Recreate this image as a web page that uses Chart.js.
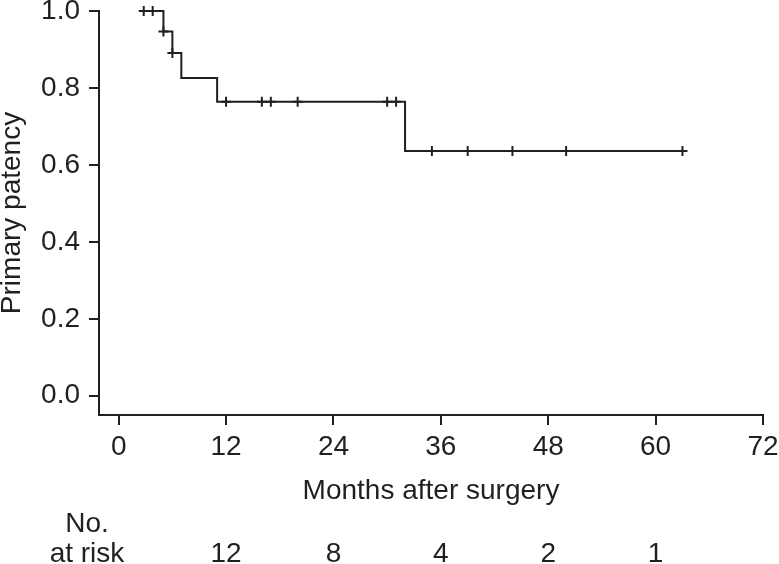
<!DOCTYPE html>
<html>
<head>
<meta charset="utf-8">
<script src="https://cdn.jsdelivr.net/npm/chart.js@4/dist/chart.umd.min.js"></script>
<style>
  html, body { margin: 0; padding: 0; background: #fff; }
</style>
</head>
<body>
<canvas id="kmChart" width="779" height="564"></canvas>
<script>
// Kaplan-Meier curve
var kmTimes    = [2.8, 5, 6, 7, 11, 32, 63];
var kmSurvival = [1.0, 0.947, 0.891, 0.826, 0.764, 0.636, 0.636];

// censored observations (+ marks)
var censorTimes = [2.8, 3.8, 5, 6, 12, 16, 17, 20, 30, 31, 35, 39, 44, 50, 63];
var censorSurv  = [1.0, 1.0, 0.947, 0.891, 0.764, 0.764, 0.764, 0.764, 0.764, 0.764, 0.636, 0.636, 0.636, 0.636, 0.636];

var xTicks = [0, 12, 24, 36, 48, 60, 72];
var yTicks = [0, 0.2, 0.4, 0.6, 0.8, 1.0];

// number at risk table
var riskTimes  = [12, 24, 36, 48, 60];
var riskCounts = [12, 8, 4, 2, 1];

var ink = '#231f20';
var fontFam = '"Liberation Sans", Arial, Helvetica, sans-serif';
var fontSize = 28;

var kmPoints = kmTimes.map(function(t, i) { return {x: t, y: kmSurvival[i]}; });
var censorPoints = censorTimes.map(function(t, i) { return {x: t, y: censorSurv[i]}; });

var atRiskTable = {
  id: 'atRiskTable',
  afterDraw: function(chart) {
    var ctx = chart.ctx;
    var xs = chart.scales.x;
    ctx.save();
    ctx.fillStyle = ink;
    ctx.font = fontSize + 'px ' + fontFam;
    ctx.textAlign = 'center';
    ctx.textBaseline = 'alphabetic';
    ctx.fillText('No.', 87, 532);
    ctx.fillText('at risk', 87, 562);
    for (var i = 0; i < riskTimes.length; i++) {
      ctx.fillText(String(riskCounts[i]), xs.getPixelForValue(riskTimes[i]), 562);
    }
    ctx.restore();
  }
};

var ctx = document.getElementById('kmChart');
var myChart = new Chart(ctx, {
  type: 'scatter',
  data: {
    datasets: [
      {
        label: 'Primary patency',
        data: kmPoints,
        showLine: true,
        stepped: true,
        borderColor: ink,
        borderWidth: 2,
        pointRadius: 0,
        fill: false,
        clip: false
      },
      {
        label: 'Censored',
        data: censorPoints,
        showLine: false,
        pointStyle: 'cross',
        pointRadius: 5,
        pointBorderWidth: 2,
        borderColor: ink,
        backgroundColor: ink,
        clip: false
      }
    ]
  },
  options: {
    responsive: false,
    animation: false,
    layout: { padding: { top: 11, right: 16, bottom: 56, left: 0 } },
    plugins: {
      legend: { display: false },
      tooltip: { enabled: false }
    },
    scales: {
      x: {
        type: 'linear',
        min: -2.2,
        max: 72,
        afterBuildTicks: function(s) { s.ticks = xTicks.map(function(v) { return {value: v}; }); },
        afterFit: function(s) { s.height = 93; s.paddingLeft = 0; s.paddingRight = 0; },
        border: { display: true, color: ink, width: 2 },
        grid: { display: true, drawOnChartArea: false, drawTicks: true, tickLength: 10, color: ink, lineWidth: 2 },
        ticks: { color: ink, padding: 5, maxRotation: 0, font: { family: fontFam, size: fontSize } },
        title: {
          display: true,
          text: 'Months after surgery',
          color: ink,
          padding: 0,
          font: { family: fontFam, size: fontSize, lineHeight: 1.2 }
        }
      },
      y: {
        type: 'linear',
        min: -0.05,
        max: 1.0,
        afterBuildTicks: function(s) { s.ticks = yTicks.map(function(v) { return {value: v}; }); },
        afterFit: function(s) { s.width = 99; s.paddingTop = 0; s.paddingBottom = 0; },
        border: { display: true, color: ink, width: 2 },
        grid: { display: true, drawOnChartArea: false, drawTicks: true, tickLength: 10, color: ink, lineWidth: 2 },
        ticks: {
          color: ink,
          padding: 9,
          font: { family: fontFam, size: fontSize },
          callback: function(v) { return Number(v).toFixed(1); }
        },
        title: {
          display: true,
          text: 'Primary patency',
          color: ink,
          padding: 0,
          font: { family: fontFam, size: fontSize, lineHeight: 0.9 }
        }
      }
    }
  },
  plugins: [atRiskTable]
});
</script>
</body>
</html>
